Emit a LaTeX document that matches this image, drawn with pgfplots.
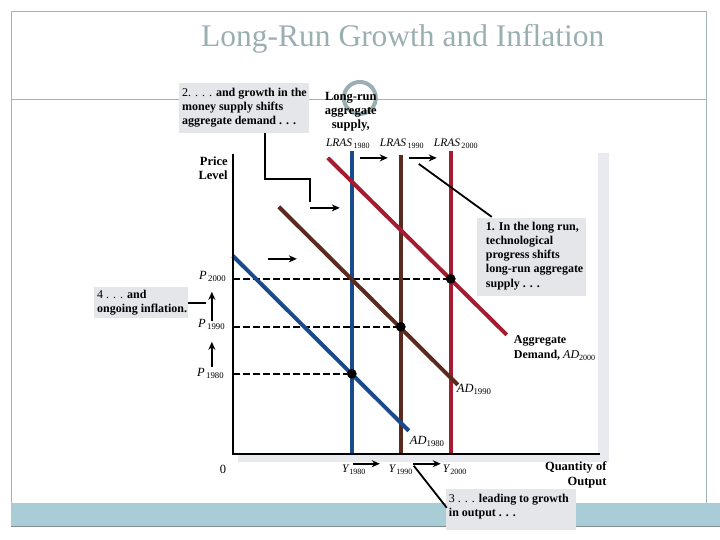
\documentclass[border=0pt]{standalone}
\usepackage{pgfplots}
\pgfplotsset{compat=1.18}
\usepackage{fontspec}
\setmainfont{Liberation Serif}
\usetikzlibrary{arrows.meta}

\definecolor{lrasblue}{HTML}{1B4A8C}
\definecolor{lrasbrown}{HTML}{5A2A1E}
\definecolor{lrasred}{HTML}{A51C30}
\definecolor{titlegray}{HTML}{9AAFB2}
\definecolor{framegray}{HTML}{A3B3B6}
\definecolor{band}{HTML}{A9CDD7}
\definecolor{boxgray}{HTML}{E4E6EA}
\definecolor{shadowgray}{HTML}{E8EAF0}

\tikzset{
  arr/.style={black, line width=1.8pt, -{Stealth[length=8pt,width=7pt]}},
  lab/.style={font=\fontsize{12.5}{14}\selectfont, inner sep=0pt},
  sml/.style={font=\fontsize{11.5}{14}\selectfont, inner sep=0pt},
  boxtxt/.style={font=\bfseries\fontsize{12}{14.2}\selectfont, inner sep=0pt, anchor=north west, align=left},
}

\begin{document}
\begin{tikzpicture}
\begin{axis}[
  width=720pt, height=540pt, scale only axis,
  xmin=0, xmax=720, ymin=0, ymax=540, y dir=reverse,
  axis lines=none, ticks=none, clip=false,
]
\path (0,0) rectangle (720,540);

% slide frame
\draw[framegray, line width=1pt] (12,503) -- (12,12) -- (707,12) -- (707,503);
\draw[framegray, line width=1pt] (12,100) -- (707,100);
\fill[band] (11,503) rectangle (720,527);
\draw[framegray!80!black, line width=0.8pt] (11,527) -- (720,527);

\node[font=\fontsize{31.5}{36}\selectfont, text=titlegray] at (403,39) {Long-Run Growth and Inflation};

% plot panel with shadow
\fill[shadowgray] (238,153) rectangle (609,462);
\fill[white] (233,148) rectangle (598,455);

% price levels
\addplot[black, line width=2pt, dash pattern=on 7pt off 3pt] coordinates {(233,279) (451,279)};
\addplot[black, line width=2pt, dash pattern=on 7pt off 3pt] coordinates {(233,327) (401,327)};
\addplot[black, line width=2pt, dash pattern=on 7pt off 3pt] coordinates {(233,374) (352,374)};

% long-run aggregate supply
\addplot[lrasblue, line width=4pt] coordinates {(352,151) (352,454)};
\addplot[lrasbrown, line width=4pt] coordinates {(401,155) (401,454)};
\addplot[lrasred, line width=4pt] coordinates {(451,151) (451,454)};

% aggregate demand
\addplot[lrasblue, line width=4pt] coordinates {(233,256) (409,431)};
\addplot[lrasbrown, line width=4pt] coordinates {(279,207) (458,385)};
\addplot[lrasred, line width=4pt] coordinates {(328,158) (507,335)};

% equilibria
\addplot[only marks, mark=*, mark size=4.6pt, black] coordinates {(352,374) (401,327) (451,279)};

% axes
\draw[black, line width=2pt] (233,154) -- (233,454) -- (600,454);

% ring
\draw[titlegray, line width=4pt] (360,98) circle[radius=16pt];

% annotation boxes
\fill[boxgray] (179,83) rectangle (309,133);
\fill[boxgray] (477,218) rectangle (586,296);
\fill[boxgray] (94,287) rectangle (188,318);
\fill[boxgray] (446,489) rectangle (576,530);

\node[boxtxt] at (182,88) {\mdseries 2. . . . \bfseries and growth in the\\money supply shifts\\aggregate demand . . .};
\node[boxtxt] at (486,222) {1. In the long run,\\technological\\progress shifts\\long-run aggregate\\supply . . .};
\node[boxtxt] at (97,290) {\mdseries 4 . . . \bfseries and\\ongoing inflation.};
\node[boxtxt] at (449,494) {\mdseries 3 . . . \bfseries leading to growth\\in output . . .};

% connectors and arrows
\draw[black, line width=2pt] (265,133) -- (265,179) -- (310,179) -- (310,202);
\draw[arr] (310,208) -- (340,208);
\draw[arr] (268,259) -- (297,259);
\draw[arr] (360,158) -- (388,158);
\draw[arr] (409,158) -- (437,158);
\draw[black, line width=1.8pt] (419,164) -- (492,217);
\draw[black, line width=1.8pt] (188,303) -- (206,303);
\draw[arr] (212,321) -- (212,292);
\draw[arr] (212,367) -- (212,342);
\draw[arr] (353,464) -- (380,464);
\draw[arr] (413,464) -- (441,464);
\draw[black, line width=1.8pt] (414,466) -- (447,508);

% labels
\node[font=\bfseries\fontsize{12.5}{13.8}\selectfont, align=center, inner sep=0pt] at (351,112) {Long-run\\aggregate\\supply,};
\node[sml, anchor=base west] at (326,147) {\textit{LRAS}\textsubscript{\,1980}};
\node[sml, anchor=base west] at (380,147) {\textit{LRAS}\textsubscript{\,1990}};
\node[sml, anchor=base west] at (434,147) {\textit{LRAS}\textsubscript{\,2000}};

\node[font=\bfseries\fontsize{12.5}{14}\selectfont, align=right, anchor=east, inner sep=0pt] at (228,168) {Price\\Level};
\node[lab, anchor=west] at (199,277) {\textit{P}\textsubscript{\,2000}};
\node[lab, anchor=west] at (198,325) {\textit{P}\textsubscript{\,1990}};
\node[lab, anchor=west] at (197,374) {\textit{P}\textsubscript{\,1980}};

\node[font=\bfseries\fontsize{12}{14.5}\selectfont, align=left, anchor=north west, inner sep=0pt] at (514,336) {Aggregate\\Demand, \mdseries\textit{AD}\textsubscript{2000}};
\node[lab, anchor=west] at (457,390) {\textit{AD}\textsubscript{1990}};
\node[lab, anchor=west] at (410,442) {\textit{AD}\textsubscript{1980}};

\node[lab, anchor=center] at (223,470) {0};
\node[sml, anchor=west] at (342,470) {\textit{Y}\textsubscript{1980}};
\node[sml, anchor=west] at (389,470) {\textit{Y}\textsubscript{1990}};
\node[sml, anchor=west] at (443,470) {\textit{Y}\textsubscript{2000}};
\node[font=\bfseries\fontsize{12.5}{15}\selectfont, align=right, anchor=north east, inner sep=0pt] at (607,462) {Quantity of\\Output};
\end{axis}
\end{tikzpicture}
\end{document}
